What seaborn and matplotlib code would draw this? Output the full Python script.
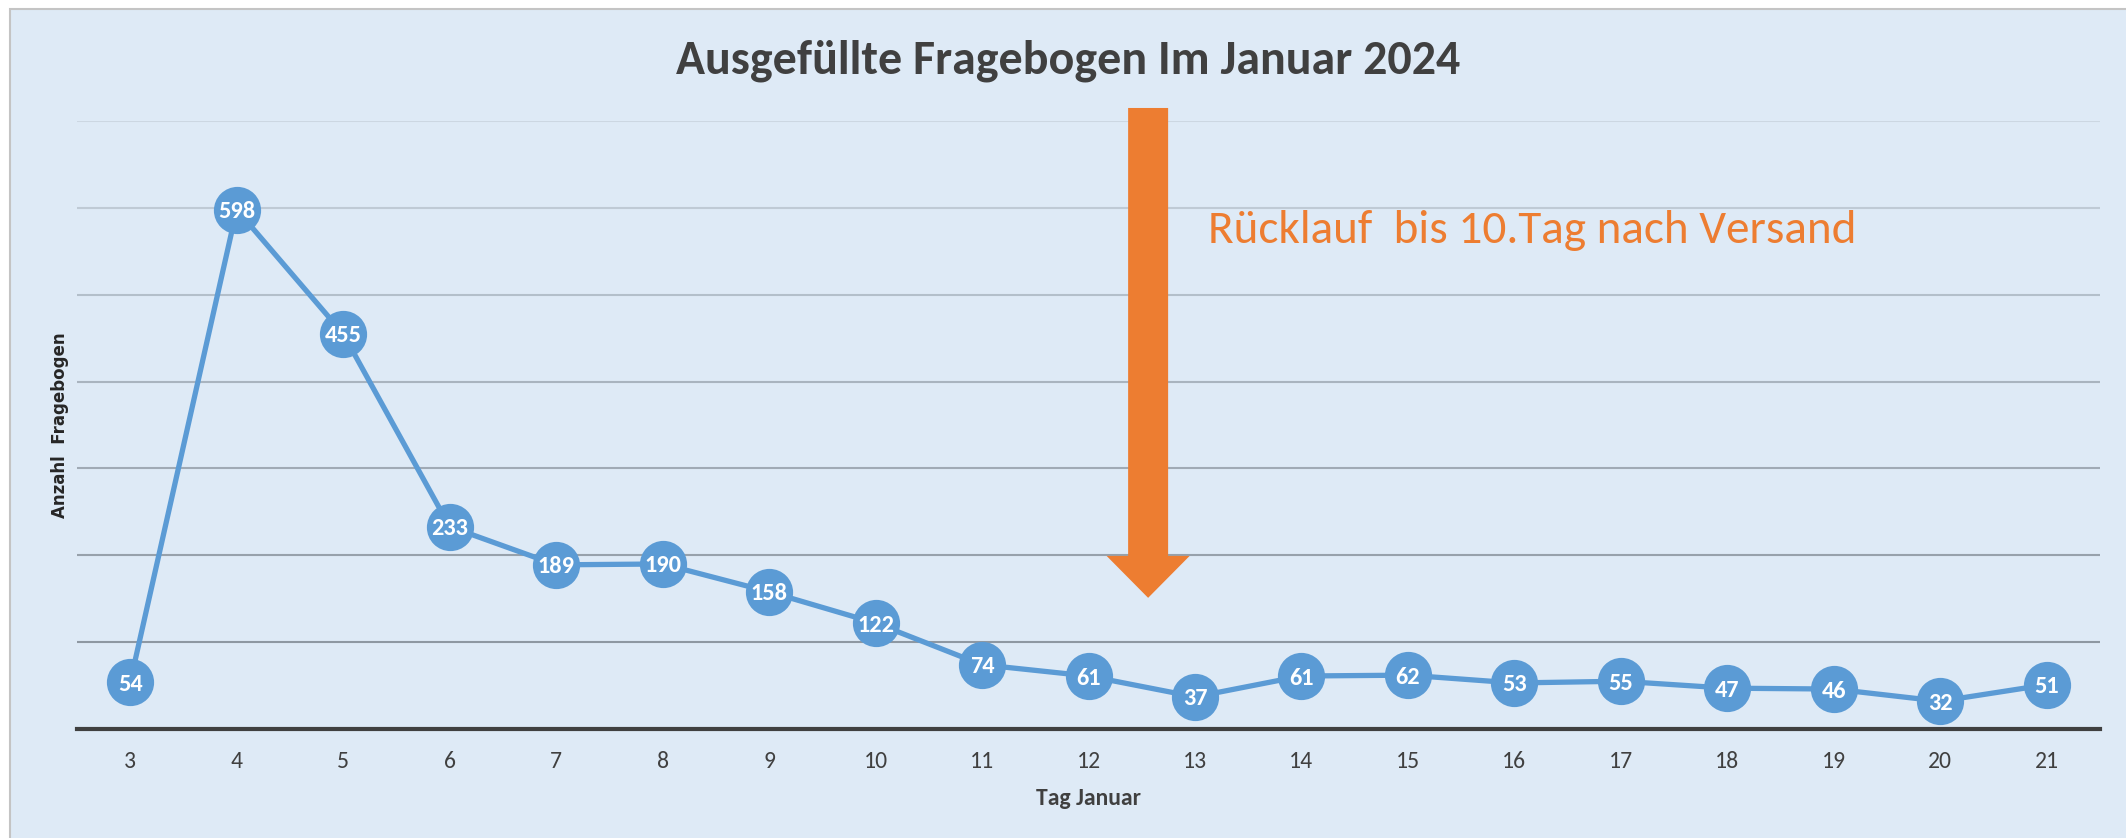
import matplotlib
matplotlib.use("Agg")
import matplotlib.pyplot as plt
from matplotlib import font_manager as fm
from matplotlib.patches import Rectangle
import seaborn as sns
import numpy as np

# ---- data ----
days = [3, 4, 5, 6, 7, 8, 9, 10, 11, 12, 13, 14, 15, 16, 17, 18, 19, 20, 21]
counts = [54, 598, 455, 233, 189, 190, 158, 122, 74, 61, 37, 61, 62, 53, 55, 47, 46, 32, 51]
title = "Ausgefüllte Fragebogen Im Januar 2024"
xlabel = "Tag Januar"
ylabel = "Anzahl  Fragebogen"
note = "Rücklauf  bis 10.Tag nach Versand"
arrow_x = 12.56
arrow_top, arrow_tip = 715, 151
note_x, note_y = 13.12, 574

names = {f.name for f in fm.fontManager.ttflist}
def pick(*cands):
    for c in cands:
        if c in names:
            return c
    return "DejaVu Sans"
NARROW = pick("Carlito", "Liberation Sans Narrow", "Open Sans")

W, H, DPI = 2126, 838, 100
sns.set_theme(style="white")
plt.rcParams["font.family"] = [NARROW, "DejaVu Sans"]

fig = plt.figure(figsize=(W / DPI, H / DPI), dpi=DPI, facecolor="white")
fig.add_artist(Rectangle((10 / W, -0.01), 1.0, 1 - 9 / H + 0.01, transform=fig.transFigure,
                         facecolor="#DEEAF6", edgecolor="#C4C4C4", linewidth=1.5, zorder=-10))
ax = fig.add_axes([77 / W, (H - 729) / H, (2100 - 77) / W, (729 - 121) / H])
ax.set_facecolor("none")

blue = "#5B9BD5"
sns.lineplot(x=days, y=counts, ax=ax, color=blue, linewidth=3.8, marker="o",
             markersize=34, markeredgewidth=0, sort=False, zorder=3)
for d, v in zip(days, counts):
    ax.text(d, v, str(v), ha="center", va="center_baseline", color="white",
            fontsize=17.5, fontweight="bold", zorder=4)

ax.set_xlim(days[0] - 0.5, days[-1] + 0.5)
ax.set_ylim(0, 700)
ax.set_xticks(days)
ax.set_xticklabels([str(d) for d in days])
ax.set_yticks(np.arange(100, 701, 100))
ax.set_yticklabels([])
ax.tick_params(axis="x", length=0, pad=16, labelsize=17, labelcolor="#404040")
ax.tick_params(axis="y", length=0)
ax.grid(axis="y", linewidth=1.5)
gcols = ["#8E98A2", "#97A1AB", "#A0AAB5", "#A9B4BF", "#B3BFCA", "#BFCAD5", "#CCD7E2"]
for gl, c in zip(ax.get_ygridlines(), gcols):
    gl.set_color(c)
for s in ["left", "right", "top"]:
    ax.spines[s].set_visible(False)
ax.spines["bottom"].set_color("#404040")
ax.spines["bottom"].set_linewidth(3)
ax.spines["bottom"].set_zorder(2)

ax.set_xlabel(xlabel, fontsize=17, fontweight="bold", color="#404040", labelpad=11)
ax.set_ylabel(ylabel, fontsize=12, fontweight="bold", color="#262626",
              family=["DejaVu Sans"])
ax.yaxis.set_label_coords(-0.004, 0.5)

fig.text(1068 / W, 1 - 61 / H, title, ha="center", va="center", fontsize=34.5,
         fontweight="bold", color="#404040")

ax.annotate("", xy=(arrow_x, arrow_tip), xytext=(arrow_x, arrow_top),
            textcoords="data", annotation_clip=False,
            arrowprops=dict(arrowstyle="simple,head_width=59.8,head_length=30.2,tail_width=28.8",
                            mutation_scale=1, shrinkA=0, shrinkB=0, color="#ED7D31",
                            linewidth=0))
ax.text(note_x, note_y, note, ha="left", va="center", fontsize=34, color="#ED7D31")

fig.savefig("out.png", dpi=DPI, facecolor="white")
